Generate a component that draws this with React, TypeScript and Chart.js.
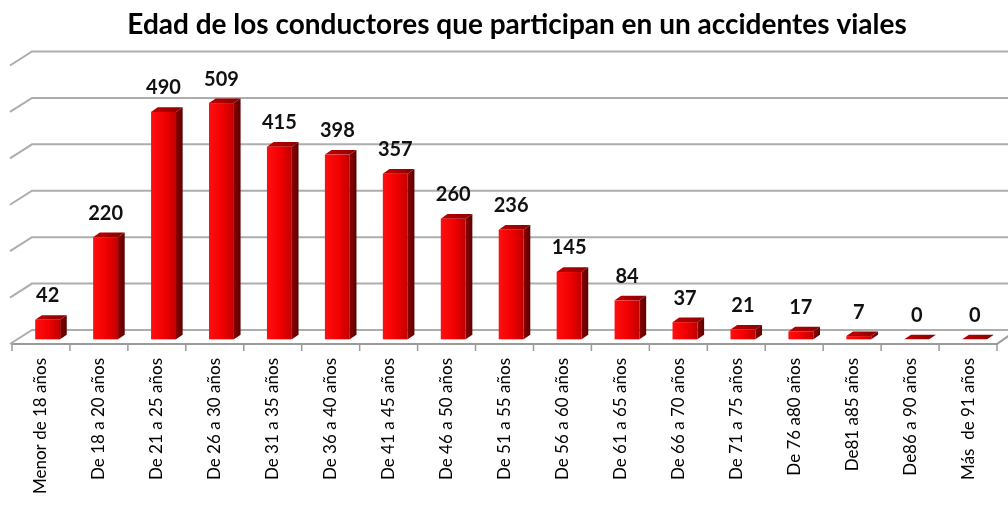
import React, { useEffect, useRef } from "react";
import { Chart, registerables } from "chart.js";

Chart.register(...registerables);

const TITLE = "Edad de los conductores que participan en un accidentes viales";

const CATEGORIES = [
  "Menor de 18 años",
  "De 18 a 20 años",
  "De 21 a 25 años",
  "De 26 a 30 años",
  "De 31 a 35 años",
  "De 36 a 40 años",
  "De 41 a 45 años",
  "De 46 a 50 años",
  "De 51 a 55 años",
  "De 56 a 60 años",
  "De 61 a 65 años",
  "De 66 a 70 años",
  "De 71 a 75 años",
  "De 76 a80 años",
  "De81 a85 años",
  "De86 a 90 años",
  "Más  de 91 años",
];

const VALUES = [42, 220, 490, 509, 415, 398, 357, 260, 236, 145, 84, 37, 21, 17, 7, 0, 0];

const Y_TICKS = [0, 100, 200, 300, 400, 500, 600];

const DEPTH_X = 20;
const DEPTH_Y = -14;

const threeD = {
  id: "threeD",
  beforeDatasetsDraw(chart: any) {
    const { ctx, chartArea: ca, scales } = chart;
    const ys = scales.y;
    const xs = scales.x;
    ctx.save();
    ctx.strokeStyle = "#adadad";
    ctx.lineWidth = 2;
    for (const v of Y_TICKS) {
      const py = ys.getPixelForValue(v);
      ctx.beginPath();
      ctx.moveTo(ca.left - 2, py);
      ctx.lineTo(ca.left + DEPTH_X, py + DEPTH_Y);
      ctx.lineTo(chart.width + 10, py + DEPTH_Y);
      ctx.stroke();
    }
    ctx.strokeStyle = "#9a9a9a";
    ctx.lineWidth = 2;
    ctx.beginPath();
    ctx.moveTo(ca.left, ca.bottom);
    ctx.lineTo(ca.right, ca.bottom);
    ctx.lineTo(ca.right + DEPTH_X, ca.bottom + DEPTH_Y);
    ctx.stroke();
    const n = CATEGORIES.length;
    const cw = (ca.right - ca.left) / n;
    ctx.lineWidth = 1.5;
    for (let i = 0; i <= n; i++) {
      const px = i < n ? xs.getPixelForValue(i) - cw / 2 : xs.getPixelForValue(n - 1) + cw / 2;
      ctx.beginPath();
      ctx.moveTo(px, ca.bottom);
      ctx.lineTo(px, ca.bottom + 7);
      ctx.stroke();
    }
    ctx.restore();
  },
  afterDatasetsDraw(chart: any) {
    const { ctx } = chart;
    const meta = chart.getDatasetMeta(0);
    const dx = DEPTH_X / 3;
    const dy = DEPTH_Y / 3;
    ctx.save();
    meta.data.forEach((bar: any, i: number) => {
      const p = bar.getProps(["x", "y", "base", "width"], true);
      const l = p.x - p.width / 2 + dx;
      const r = p.x + p.width / 2 + dx;
      const t = p.y + dy;
      const b = p.base + dy;
      const sg = ctx.createLinearGradient(r, 0, r + dx, 0);
      sg.addColorStop(0, "#8c0000");
      sg.addColorStop(1, "#5a0000");
      ctx.fillStyle = sg;
      ctx.beginPath();
      ctx.moveTo(r, t);
      ctx.lineTo(r + dx, t + dy);
      ctx.lineTo(r + dx, b + dy);
      ctx.lineTo(r, b);
      ctx.closePath();
      ctx.fill();
      const tg = ctx.createLinearGradient(l, 0, r + dx, 0);
      tg.addColorStop(0, "#c00000");
      tg.addColorStop(1, "#8a0000");
      ctx.fillStyle = tg;
      ctx.beginPath();
      ctx.moveTo(l, t);
      ctx.lineTo(l + dx, t + dy);
      ctx.lineTo(r + dx, t + dy);
      ctx.lineTo(r, t);
      ctx.closePath();
      ctx.fill();
      if (b - t > 0.5) {
        const fg = ctx.createLinearGradient(l, 0, r, 0);
        fg.addColorStop(0, "#ff1010");
        fg.addColorStop(0.55, "#f00000");
        fg.addColorStop(1, "#c00000");
        ctx.fillStyle = fg;
        ctx.fillRect(l, t, r - l, b - t);
      }
      ctx.fillStyle = "#111111";
      ctx.font = "bold 20px Lato";
      ctx.textAlign = "center";
      ctx.textBaseline = "middle";
      ctx.fillText(String(VALUES[i]), (l + r) / 2, t - 24);
    });
    ctx.restore();
  },
  afterDraw(chart: any) {
    const { ctx } = chart;
    ctx.save();
    ctx.fillStyle = "#000000";
    ctx.font = "bold 28px Lato";
    ctx.textAlign = "center";
    ctx.textBaseline = "middle";
    ctx.fillText(TITLE, 517, 25);
    ctx.restore();
  },
};

export default function App() {
  const ref = useRef<HTMLCanvasElement | null>(null);
  useEffect(() => {
    if (!ref.current) return;
    const chart = new Chart(ref.current, {
      type: "bar",
      data: {
        labels: CATEGORIES,
        datasets: [
          {
            data: VALUES,
            backgroundColor: "rgba(0,0,0,0)",
            borderWidth: 0,
            barPercentage: 0.43,
            categoryPercentage: 1,
          },
        ],
      },
      options: {
        responsive: false,
        animation: false,
        devicePixelRatio: 1,
        layout: { padding: { top: 65.5, left: 12, right: 11, bottom: 0 } },
        plugins: {
          legend: { display: false },
          tooltip: { enabled: false },
          title: { display: false },
        },
        scales: {
          x: {
            offset: true,
            grid: { display: false, drawTicks: false },
            border: { display: false },
            ticks: {
              autoSkip: false,
              minRotation: 90,
              maxRotation: 90,
              padding: 14,
              color: "#000000",
              font: { family: "Lato", size: 17 },
            },
            afterFit: (scale: any) => {
              scale.height = 161;
            },
          },
          y: {
            display: false,
            min: 0,
            max: 600,
          },
        },
      },
      plugins: [threeD],
    });
    return () => chart.destroy();
  }, []);
  return (
    <div style={{ position: "fixed", left: 0, top: 0, width: 1008, height: 505, background: "#ffffff" }}>
      <canvas ref={ref} width={1008} height={505} style={{ display: "block" }} />
    </div>
  );
}
